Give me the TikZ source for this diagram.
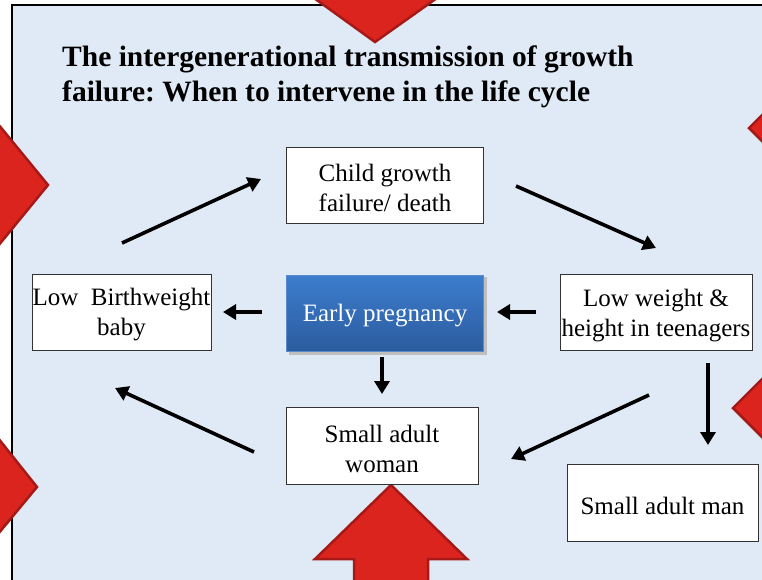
\documentclass[tikz,border=0pt]{standalone}
\usepackage{fontspec}
\setmainfont{Liberation Serif}
\usetikzlibrary{arrows.meta}
\definecolor{panelblue}{HTML}{E0EAF6}
\definecolor{arrowred}{HTML}{DC241F}
\definecolor{arrowdark}{HTML}{A51A17}
\definecolor{epTop}{HTML}{3D7DCD}
\definecolor{epBot}{HTML}{2B5C9F}
\definecolor{epEdge}{HTML}{5A8AD0}
\tikzset{
  box/.style={draw=black!80, line width=0.9pt, fill=white, inner sep=0pt},
  boxtext/.style={inner sep=0pt, align=center, font=\fontsize{25}{30}\selectfont},
  bigarrow/.style={fill=arrowred, draw=arrowdark, line width=2.5pt, line join=miter},
  flow/.style={line width=3.6pt, -{Triangle[length=13pt,width=15pt]}},
  titletext/.style={anchor=base west, inner sep=0pt, font=\frenchspacing\bfseries\fontsize{29.5}{36}\selectfont},
}
\begin{document}
\begin{tikzpicture}[x=1pt,y=-1pt]
\useasboundingbox (0,0) rectangle (762,579);
\fill[white] (0,0) rectangle (762,579);
% panel
\draw[fill=panelblue, line width=2pt] (12,5) rectangle (790,600);
% big red arrows
\fill[bigarrow] (314,-2) -- (375,42) -- (437,-2) -- cycle;
\fill[bigarrow] (-2,124) -- (48,185) -- (-2,246) -- cycle;
\fill[bigarrow] (-2,438) -- (37,487) -- (-2,534) -- cycle;
\fill[bigarrow] (765,112) -- (749,128) -- (765,144) -- cycle;
\fill[bigarrow] (765,376) -- (733,408) -- (765,440) -- cycle;
\fill[bigarrow] (354,590) -- (354,559) -- (315,559) -- (391,485) -- (467,559) -- (428,559) -- (428,590) -- cycle;
% title
\node[titletext] (t1) at (62,66) {The intergenerational transmission of growth};
\node[titletext] (t2) at (62,101) {failure: When to intervene in the life cycle};
% boxes
\node[box, minimum width=197pt, minimum height=76pt] (child) at (385,185) {};
\node[boxtext] (childT) at ([yshift=-3pt]child.center) {Child growth\\failure/ death};
\node[box, minimum width=179pt, minimum height=76pt] (lbw) at (121.5,312) {};
\node[boxtext] (lbwT) at ([yshift=-3pt]lbw.center) {Low\ \ Birthweight\\baby};
\node[box, minimum width=192pt, minimum height=76pt] (teen) at (656,312) {};
\node[boxtext] (teenT) at ([yshift=-4pt]teen.center) {Low weight \&\\height in teenagers};
\node[box, minimum width=192pt, minimum height=77pt] (woman) at (382,445.5) {};
\node[boxtext] (womanT) at ([yshift=-3pt]woman.center) {Small adult\\woman};
\node[box, minimum width=191pt, minimum height=77pt] (man) at (662.5,502.5) {};
\node[boxtext] (manT) at ([yshift=-3pt]man.center) {Small adult man};
% early pregnancy
\fill[black!25] (289,277) rectangle (487,355);
\node[draw=epEdge, line width=0.8pt, top color=epTop, bottom color=epBot, minimum width=197pt, minimum height=76pt,
  inner sep=0pt] (ep) at (385,313) {};
\node[boxtext, text=white] (epT) at ([yshift=-3pt]ep.center) {Early pregnancy};
% connector end points
\coordinate (a1s) at (122,243); \coordinate (a1e) at (261,179);
\coordinate (a2s) at (516,186); \coordinate (a2e) at (656,248);
\coordinate (a3s) at (262,312); \coordinate (a3e) at (223,312);
\coordinate (a4s) at (536,312); \coordinate (a4e) at (497,312);
\coordinate (a5s) at (382,357); \coordinate (a5e) at (382,394);
\coordinate (a6s) at (708,363); \coordinate (a6e) at (708,445);
\coordinate (a7s) at (649,395); \coordinate (a7e) at (511,459);
\coordinate (a8s) at (254,452); \coordinate (a8e) at (115,388);
\draw[flow] (a1s) -- (a1e);
\draw[flow] (a2s) -- (a2e);
\draw[flow] (a3s) -- (a3e);
\draw[flow] (a4s) -- (a4e);
\draw[flow] (a5s) -- (a5e);
\draw[flow] (a6s) -- (a6e);
\draw[flow] (a7s) -- (a7e);
\draw[flow] (a8s) -- (a8e);
\end{tikzpicture}
\end{document}
